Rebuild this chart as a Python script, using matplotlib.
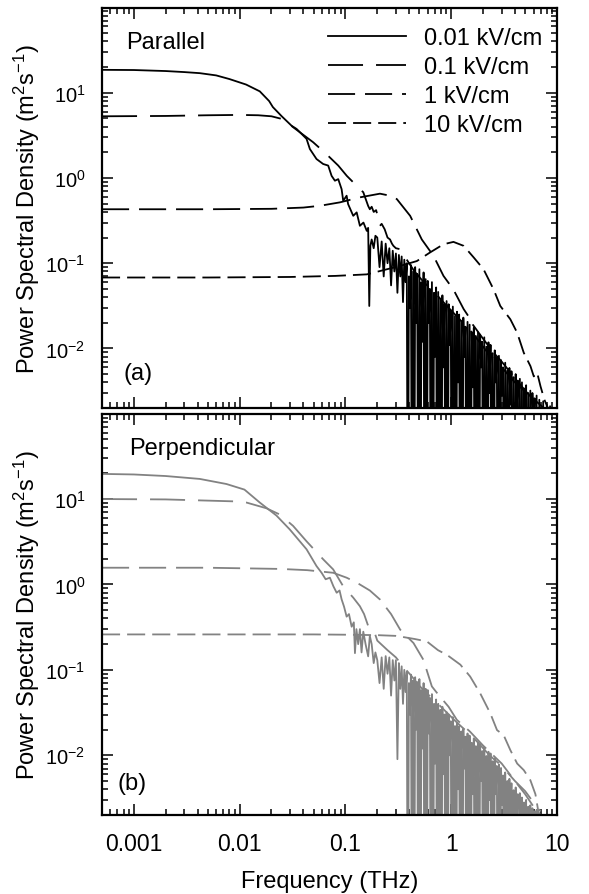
import matplotlib
matplotlib.use('Agg')
import matplotlib.pyplot as plt
import matplotlib.ticker as ticker

plt.rcParams['font.family'] = ['Liberation Sans', 'DejaVu Sans']
plt.rcParams['mathtext.fontset'] = 'custom'
plt.rcParams['mathtext.rm'] = 'Liberation Sans'
plt.rcParams['mathtext.it'] = 'Liberation Sans:italic'
plt.rcParams['mathtext.bf'] = 'Liberation Sans:bold'

# ---------------- data (frequency in THz, PSD in m^2 s^-1) ----------------
labels = ['0.01 kV/cm', '0.1 kV/cm', '1 kV/cm', '10 kV/cm']

# common high-frequency grid for the noisy 0.01 kV/cm spectra
f_noise = [0.20, 0.21, 0.22, 0.23, 0.24, 0.25, 0.26, 0.27, 0.28, 0.29,
           0.30, 0.31, 0.32, 0.33, 0.34, 0.35, 0.36, 0.37,
           0.380, 0.389, 0.398, 0.407, 0.416, 0.426, 0.436, 0.446, 0.456, 0.467,
           0.477, 0.488, 0.500, 0.511, 0.523, 0.535, 0.548, 0.560, 0.573, 0.586,
           0.600, 0.614, 0.628, 0.642, 0.657, 0.672, 0.688, 0.703, 0.720, 0.736,
           0.753, 0.771, 0.788, 0.806, 0.825, 0.844, 0.863, 0.883, 0.904, 0.925,
           0.946, 0.968, 0.990, 1.013, 1.036, 1.060, 1.085, 1.110, 1.135, 1.161,
           1.188, 1.216, 1.244, 1.272, 1.302, 1.332, 1.362, 1.394, 1.426, 1.459,
           1.492, 1.527, 1.562, 1.598, 1.635, 1.672, 1.711, 1.750, 1.791, 1.832,
           1.874, 1.917, 1.961, 2.007, 2.053, 2.100, 2.149, 2.198, 2.249, 2.300,
           2.354, 2.408, 2.463, 2.520, 2.578, 2.638, 2.698, 2.761, 2.824, 2.889,
           2.956, 3.024, 3.094, 3.165, 3.238, 3.312, 3.389, 3.467, 3.547, 3.628,
           3.712, 3.797, 3.885, 3.974, 4.066, 4.159, 4.255, 4.353, 4.454, 4.556,
           4.661, 4.769, 4.879, 4.991, 5.106, 5.224, 5.344, 5.467, 5.593, 5.722,
           5.854, 5.989, 6.127, 6.268, 6.413, 6.560, 6.800, 7.100, 7.400, 7.700,
           8.000, 8.300, 8.600, 8.900, 9.200, 9.500]

# ---- (a) parallel ----
fa_001 = [0.0005, 0.001, 0.002, 0.003, 0.0042, 0.006, 0.008, 0.0115, 0.0155,
          0.019, 0.0206, 0.025, 0.031, 0.0345, 0.0429, 0.0461, 0.0533, 0.0616,
          0.0687, 0.074, 0.0795, 0.0855, 0.092, 0.0953, 0.1026, 0.106, 0.1185,
          0.1277, 0.137, 0.148, 0.159, 0.164, 0.168, 0.172, 0.177, 0.185, 0.192]
pa_001 = [18.6, 18.5, 18.0, 17.5, 17.0, 16.0, 14.5, 12.5, 10.4,
          8.0, 6.8, 5.3, 4.1, 3.77, 2.88, 2.19, 1.67, 1.46,
          1.40, 1.06, 0.93, 0.97, 0.74, 0.54, 0.62, 0.494, 0.36,
          0.395, 0.275, 0.30, 0.24, 0.26, 0.0315, 0.16, 0.19, 0.15, 0.21]
pa_001_noise = [0.20, 0.09, 0.18, 0.07, 0.17, 0.10, 0.15, 0.055, 0.14, 0.08,
                0.13, 0.045, 0.125, 0.07, 0.12, 0.035, 0.11, 0.06,
                0.10, 1e-5, 0.07, 0.03, 0.095, 1e-5, 0.08, 1e-5, 0.09, 0.02,
                0.075, 1e-5, 0.085, 1e-5, 0.06, 0.012, 0.078, 1e-5, 0.065, 1e-5,
                0.062, 0.02, 0.05, 1e-5, 0.06, 1e-5, 0.045, 0.008, 0.052, 1e-5,
                0.046, 1e-5, 0.038, 1e-5, 0.042, 0.006, 0.033, 1e-5, 0.036, 1e-5,
                0.033, 0.011, 0.028, 1e-5, 0.031, 1e-5, 0.024, 1e-5, 0.027, 0.004,
                0.025, 1e-5, 0.021, 1e-5, 0.023, 0.008, 0.018, 1e-5, 0.0205, 1e-5,
                0.019, 1e-5, 0.0155, 0.0035, 0.0175, 1e-5, 0.014, 1e-5, 0.0155, 1e-5,
                0.0145, 0.006, 0.012, 1e-5, 0.0135, 1e-5, 0.0105, 1e-5, 0.0118, 0.003,
                0.011, 1e-5, 0.0088, 1e-5, 0.0095, 0.004, 0.0078, 1e-5, 0.0082, 1e-5,
                0.0073, 0.0028, 0.006, 1e-5, 0.0068, 1e-5, 0.0055, 1e-5, 0.0059, 0.0022,
                0.0054, 1e-5, 0.0046, 1e-5, 0.005, 0.0018, 0.0042, 1e-5, 0.0044, 1e-5,
                0.004, 1e-5, 0.0034, 0.0015, 0.0037, 1e-5, 0.003, 1e-5, 0.0032, 1e-5,
                0.003, 0.0012, 0.0026, 1e-5, 0.0028, 1e-5, 0.0025, 1e-5, 0.0024, 1e-5,
                0.0022, 1e-5, 0.0021, 1e-5, 0.002, 1e-5]

fa_01 = [0.0005, 0.002, 0.005, 0.01, 0.015, 0.02, 0.0248, 0.028, 0.032, 0.037,
         0.0495, 0.066, 0.0855, 0.103, 0.1185, 0.1475, 0.164, 0.17, 0.177, 0.185,
         0.195, 0.205, 0.212, 0.22, 0.235, 0.25, 0.264, 0.275, 0.284, 0.30, 0.329,
         0.38, 0.45, 0.55, 0.70, 0.90, 1.2, 1.6, 2.2, 3.0, 4.0, 5.5, 7.5]
pa_01 = [5.3, 5.35, 5.45, 5.5, 5.45, 5.3, 4.95, 4.5, 3.95, 3.45,
         2.63, 1.91, 1.40, 1.06, 0.89, 0.68, 0.47, 0.43, 0.46, 0.40,
         0.42, 0.33, 0.275, 0.29, 0.25, 0.20, 0.19, 0.17, 0.16, 0.15, 0.146,
         0.11, 0.08, 0.06, 0.045, 0.032, 0.022, 0.015, 0.009, 0.006, 0.004, 0.0028, 0.002]

fa_1 = [0.0005, 0.005, 0.02, 0.04, 0.0573, 0.0887, 0.137, 0.212, 0.264, 0.306,
        0.409, 0.527, 0.68, 0.845, 1.05, 1.31, 1.45, 1.6, 2.0, 2.5, 3.0, 4.0,
        5.0, 6.0, 7.0]
pa_1 = [0.43, 0.43, 0.435, 0.45, 0.472, 0.518, 0.593, 0.655, 0.62, 0.566,
        0.36, 0.19, 0.122, 0.071, 0.049, 0.029, 0.024, 0.019, 0.013, 0.009, 0.007, 0.0045,
        0.0032, 0.0025, 0.002]

fa_10 = [0.0005, 0.005, 0.03, 0.08, 0.159, 0.329, 0.473, 0.632, 0.845, 1.05,
         1.31, 1.63, 2.02, 2.52, 2.91, 3.62, 4.2, 4.85, 5.61, 6.03, 6.49, 6.98,
         7.6, 8.5]
pa_10 = [0.068, 0.068, 0.069, 0.071, 0.074, 0.093, 0.106, 0.134, 0.167, 0.178,
         0.16, 0.117, 0.085, 0.049, 0.0315, 0.022, 0.0153, 0.0089, 0.0062, 0.0047, 0.0052, 0.0036,
         0.0025, 0.0018]

# ---- (b) perpendicular ----
fb_001 = [0.0005, 0.001, 0.002, 0.0042, 0.0075, 0.0111, 0.0155, 0.0223, 0.0298,
          0.037, 0.0429, 0.0533, 0.0595, 0.065, 0.0713, 0.077, 0.0826, 0.088,
          0.092, 0.097, 0.1026, 0.108, 0.1145, 0.12, 0.123, 0.127, 0.132, 0.137,
          0.142, 0.1475, 0.155, 0.164, 0.17, 0.177, 0.185, 0.192]
pb_001 = [19.7, 19.4, 18.6, 17.2, 15.0, 12.9, 9.1, 6.4, 4.4,
          3.2, 2.58, 1.64, 1.37, 1.15, 1.2, 0.95, 0.8, 0.85,
          0.67, 0.55, 0.42, 0.45, 0.32, 0.36, 0.157, 0.30, 0.20, 0.30,
          0.16, 0.28, 0.20, 0.144, 0.25, 0.20, 0.12, 0.16]
pb_001_noise = [0.13, 0.07, 0.14, 0.06, 0.145, 0.09, 0.14, 0.05, 0.13, 0.075,
                0.13, 0.009, 0.12, 0.06, 0.11, 0.04, 0.10, 0.055,
                0.095, 1e-5, 0.07, 0.03, 0.088, 1e-5, 0.075, 1e-5, 0.082, 0.02,
                0.072, 1e-5, 0.078, 1e-5, 0.058, 0.012, 0.07, 1e-5, 0.06, 1e-5,
                0.058, 0.018, 0.047, 1e-5, 0.052, 1e-5, 0.04, 0.008, 0.045, 1e-5,
                0.04, 1e-5, 0.034, 1e-5, 0.037, 0.006, 0.03, 1e-5, 0.032, 1e-5,
                0.03, 0.01, 0.025, 1e-5, 0.028, 1e-5, 0.022, 1e-5, 0.024, 0.004,
                0.022, 1e-5, 0.019, 1e-5, 0.0205, 0.007, 0.0165, 1e-5, 0.018, 1e-5,
                0.017, 1e-5, 0.014, 0.0035, 0.0158, 1e-5, 0.0128, 1e-5, 0.014, 1e-5,
                0.0135, 0.005, 0.0112, 1e-5, 0.0125, 1e-5, 0.0098, 1e-5, 0.011, 0.003,
                0.0105, 1e-5, 0.0085, 1e-5, 0.0092, 0.0035, 0.0075, 1e-5, 0.0078, 1e-5,
                0.0071, 0.0026, 0.0058, 1e-5, 0.0063, 1e-5, 0.005, 1e-5, 0.0053, 0.002,
                0.0047, 1e-5, 0.0039, 1e-5, 0.0042, 0.0016, 0.0035, 1e-5, 0.0036, 1e-5,
                0.0032, 1e-5, 0.0028, 0.0012, 0.003, 1e-5, 0.0025, 1e-5, 0.0026, 1e-5,
                0.0024, 0.001, 0.0022, 1e-5, 0.0023, 1e-5, 0.0021, 1e-5, 1e-5, 1e-5,
                1e-5, 1e-5, 1e-5, 1e-5, 1e-5, 1e-5]

fb_01 = [0.0005, 0.002, 0.0087, 0.0116, 0.0179, 0.0239, 0.032, 0.0429, 0.0616,
         0.0766, 0.0953, 0.1186, 0.137, 0.15, 0.165, 0.184, 0.20, 0.25, 0.30,
         0.35, 0.42, 0.50, 0.60, 0.75, 0.90, 1.1, 1.4, 1.8, 2.3, 3.0, 4.0, 5.0,
         6.0, 7.0]
pb_01 = [10.0, 9.9, 9.4, 9.1, 7.8, 6.6, 4.85, 3.2, 1.97,
         1.5, 0.95, 0.70, 0.556, 0.45, 0.32, 0.30, 0.22, 0.17, 0.14,
         0.11, 0.085, 0.065, 0.052, 0.04, 0.032, 0.025, 0.019, 0.014, 0.01, 0.0075, 0.005, 0.0038,
         0.0028, 0.0022]

fb_1 = [0.0005, 0.005, 0.0243, 0.0436, 0.0766, 0.1026, 0.128, 0.17, 0.212,
        0.27, 0.329, 0.44, 0.546, 0.656, 0.758, 0.944, 1.13, 1.5, 2.0, 3.0,
        4.0, 5.0, 6.0]
pb_1 = [1.57, 1.57, 1.52, 1.47, 1.37, 1.2, 1.05, 0.85, 0.667,
        0.45, 0.296, 0.206, 0.131, 0.064, 0.051, 0.037, 0.026, 0.019, 0.013, 0.008,
        0.005, 0.0035, 0.0025]

fb_10 = [0.0005, 0.01, 0.05, 0.1, 0.2, 0.3, 0.353, 0.45, 0.589, 0.75, 0.91,
         1.22, 1.51, 1.88, 2.34, 2.71, 3.13, 3.62, 4.2, 4.85, 5.6, 6.25, 6.7]
pb_10 = [0.26, 0.26, 0.26, 0.258, 0.255, 0.25, 0.242, 0.23, 0.215, 0.17, 0.15,
         0.115, 0.0835, 0.053, 0.031, 0.0197, 0.0172, 0.0115, 0.008, 0.0067, 0.0051, 0.0035, 0.0021]

# ---------------- styles ----------------
lw = 1.3
styles = ['-', (0, (19.4, 7.2)), (0, (15, 5.5)), (0, (10, 3.9))]
fs = 17

fig = plt.figure(figsize=(5.89, 8.95), dpi=100)
ax_a = fig.add_axes([0.1732, 0.543, 0.7725, 0.447])
ax_b = fig.add_axes([0.1732, 0.0883, 0.7725, 0.448])

series_a = [(fa_001 + f_noise, pa_001 + pa_001_noise), (fa_01, pa_01),
            (fa_1, pa_1), (fa_10, pa_10)]
series_b = [(fb_001 + f_noise, pb_001 + pb_001_noise), (fb_01, pb_01),
            (fb_1, pb_1), (fb_10, pb_10)]

for ax, series, col in [(ax_a, series_a, 'black'), (ax_b, series_b, '#828282')]:
    for (f, p), ls, lab in zip(series, styles, labels):
        ax.plot(f, p, linestyle=ls, color=col, lw=lw, label=lab)
    ax.set_xscale('log')
    ax.set_yscale('log')
    ax.set_xlim(5e-4, 10)
    ax.set_ylim(0.002, 99)
    ax.xaxis.set_major_locator(ticker.LogLocator(base=10, numticks=20))
    ax.xaxis.set_minor_locator(ticker.LogLocator(base=10, subs=range(2, 10), numticks=20))
    ax.yaxis.set_major_locator(ticker.LogLocator(base=10, numticks=20))
    ax.yaxis.set_minor_locator(ticker.LogLocator(base=10, subs=range(2, 10), numticks=20))
    ax.xaxis.set_minor_formatter(ticker.NullFormatter())
    ax.yaxis.set_minor_formatter(ticker.NullFormatter())
    ax.tick_params(which='both', direction='in', top=True, right=True, width=1.1)
    ax.tick_params(which='major', length=8)
    ax.tick_params(which='minor', length=4.3)
    ax.tick_params(axis='x', pad=12, labelsize=16.5)
    ax.tick_params(axis='y', pad=12, labelsize=14.5)
    for sp in ax.spines.values():
        sp.set_linewidth(1.6)
    ax.set_ylabel('Power Spectral Density (m$^2$s$^{-1}$)', fontsize=fs)
    ax.yaxis.set_label_coords(-0.132, 0.5)

ax_a.tick_params(axis='x', labelbottom=False)
ax_b.xaxis.set_major_formatter(ticker.FuncFormatter(lambda v, p: f'{v:g}'))
ax_b.set_xlabel('Frequency (THz)', fontsize=fs, labelpad=11)

ax_a.text(0.053, 0.915, 'Parallel', transform=ax_a.transAxes, fontsize=fs,
          va='center', ha='left')
ax_a.text(0.048, 0.0875, '(a)', transform=ax_a.transAxes, fontsize=fs,
          va='center', ha='left')
ax_b.text(0.06, 0.915, 'Perpendicular', transform=ax_b.transAxes, fontsize=fs,
          va='center', ha='left')
ax_b.text(0.035, 0.08, '(b)', transform=ax_b.transAxes, fontsize=fs,
          va='center', ha='left')

ax_a.legend(loc='upper left', bbox_to_anchor=(0.497, 0.952), frameon=False,
            fontsize=fs, handlelength=3.3, handletextpad=0.75,
            labelspacing=0.3, borderpad=0, borderaxespad=0)

fig.savefig('out.png', dpi=100, facecolor='white')
